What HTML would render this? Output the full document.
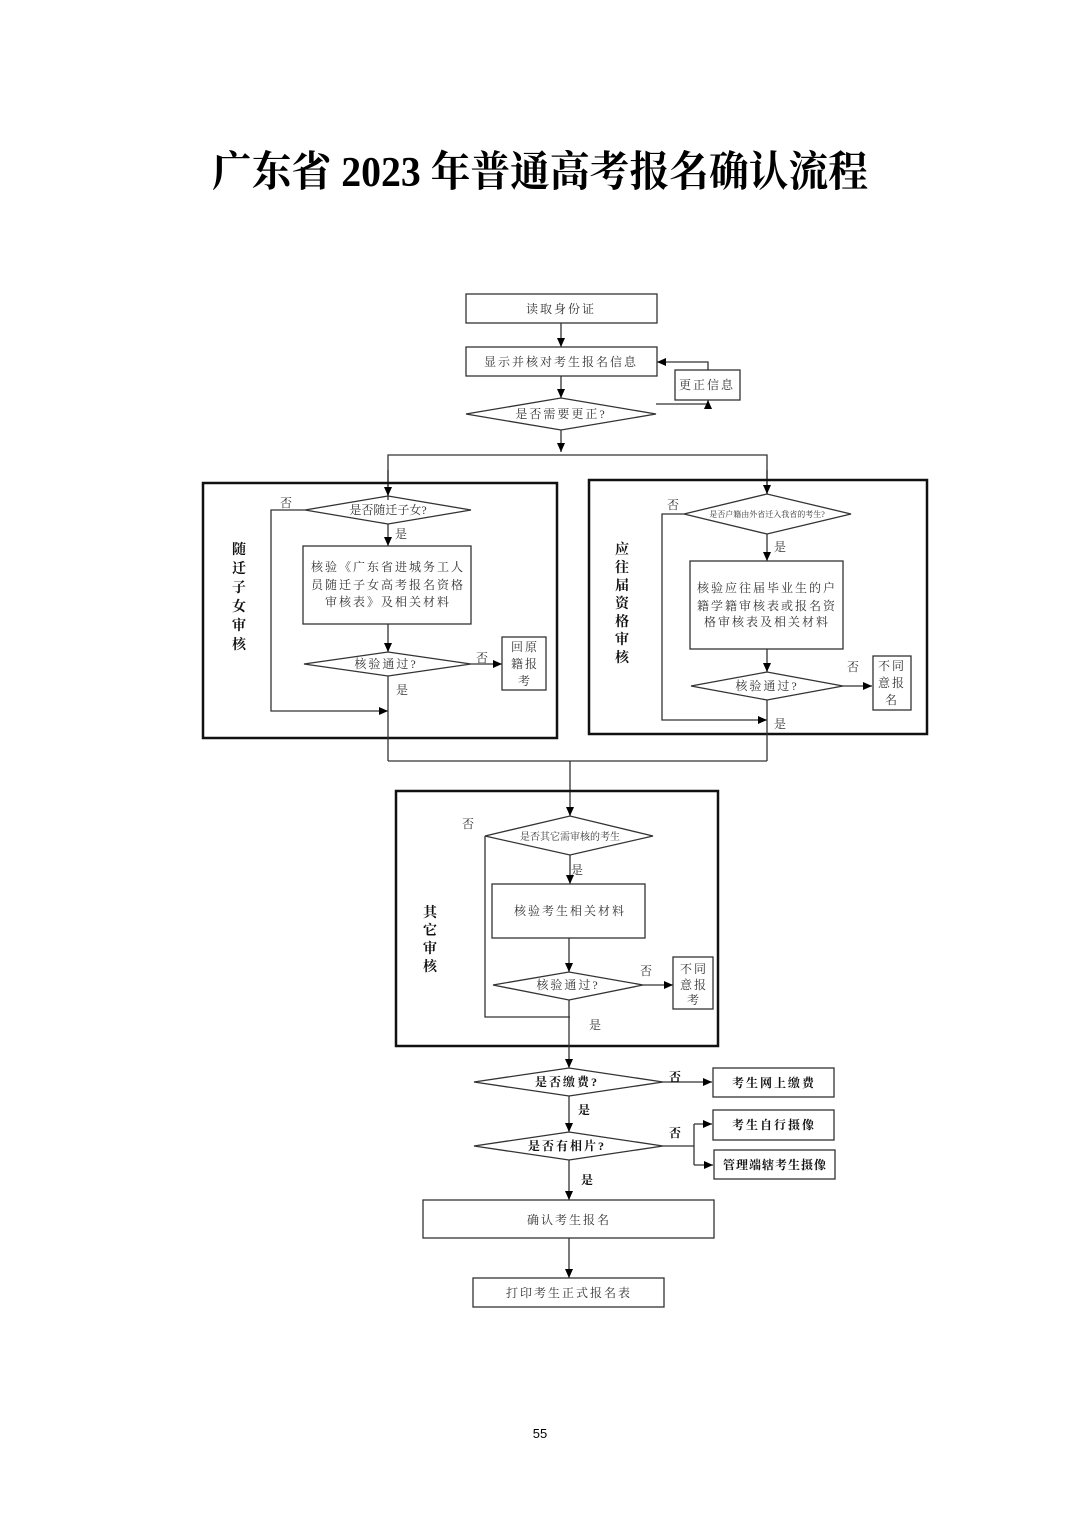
<!DOCTYPE html>
<html><head><meta charset="utf-8"><style>
html,body{margin:0;padding:0;background:#fff;}
svg{display:block;}
text{font-family:"Liberation Serif","Noto Serif CJK SC","Noto Sans CJK SC",serif;fill:#333;}
.t{font-size:12px;letter-spacing:2px;}
.s{font-size:12px;}
.b{font-weight:bold;fill:#111;font-size:12px;letter-spacing:2px;}
.v{font-weight:bold;fill:#111;font-size:14px;}
</style></head><body>
<svg width="1080" height="1528" viewBox="0 0 1080 1528" xmlns="http://www.w3.org/2000/svg">
<defs><marker id="a" markerWidth="10" markerHeight="10" refX="9" refY="5" orient="auto" markerUnits="userSpaceOnUse"><path d="M0,1 L9,5 L0,9 Z" fill="#000"/></marker></defs>
<text x="540" y="186" text-anchor="middle" font-size="42" font-weight="bold" style="fill:#000" textLength="656" lengthAdjust="spacingAndGlyphs">广东省 2023 年普通高考报名确认流程</text>
<g fill="none" stroke="#333" stroke-width="1.3">
<rect x="466" y="294" width="191" height="29"/>
<line x1="561" y1="323" x2="561" y2="347" marker-end="url(#a)"/>
<rect x="466" y="347" width="191" height="29"/>
<rect x="675" y="370" width="65" height="30"/>
<polyline points="708,370 708,362 657,362" marker-end="url(#a)"/>
<line x1="561" y1="376" x2="561" y2="398" marker-end="url(#a)"/>
<polygon points="466,414 561,398 656,414 561,430"/>
<polyline points="656,404 708,404 708,400" marker-end="url(#a)"/>
<line x1="561" y1="430" x2="561" y2="452" marker-end="url(#a)"/>
<polyline points="388,500 388,455 767,455 767,494"/>
<line x1="388" y1="470" x2="388" y2="496" marker-end="url(#a)"/>
<line x1="767" y1="470" x2="767" y2="494" marker-end="url(#a)"/>
<rect x="203" y="483" width="354" height="255" stroke="#111" stroke-width="2.5"/>
<polygon points="305,510 388,496 471,510 388,524"/>
<polyline points="305,510 271,510 271,711 388,711" marker-end="url(#a)"/>
<line x1="388" y1="524" x2="388" y2="546" marker-end="url(#a)"/>
<rect x="303" y="546" width="168" height="78"/>
<line x1="388" y1="624" x2="388" y2="652" marker-end="url(#a)"/>
<polygon points="304,664 388,652 471,664 388,676"/>
<line x1="471" y1="664" x2="502" y2="664" marker-end="url(#a)"/>
<rect x="502" y="637" width="44" height="53"/>
<line x1="388" y1="676" x2="388" y2="761"/>
<rect x="589" y="480" width="338" height="254" stroke="#111" stroke-width="2.5"/>
<polygon points="684,514 767,494 851,514 767,534"/>
<polyline points="684,514 662,514 662,720 767,720" marker-end="url(#a)"/>
<line x1="767" y1="534" x2="767" y2="561" marker-end="url(#a)"/>
<rect x="690" y="561" width="153" height="88"/>
<line x1="767" y1="649" x2="767" y2="672" marker-end="url(#a)"/>
<polygon points="691,686 767,672 843,686 767,700"/>
<line x1="843" y1="686" x2="872" y2="686" marker-end="url(#a)"/>
<rect x="873" y="656" width="38" height="54"/>
<line x1="767" y1="700" x2="767" y2="761"/>
<line x1="388" y1="761" x2="767" y2="761"/>
<line x1="570" y1="761" x2="570" y2="816" marker-end="url(#a)"/>
<rect x="396" y="791" width="322" height="255" stroke="#111" stroke-width="2.5"/>
<polygon points="485,836 570,816 653,836 570,855"/>
<polyline points="485,836 485,1017 570,1017"/>
<line x1="570" y1="855" x2="570" y2="884" marker-end="url(#a)"/>
<rect x="492" y="884" width="153" height="54"/>
<line x1="569" y1="938" x2="569" y2="972" marker-end="url(#a)"/>
<polygon points="493,985 569,972 643,985 569,1000"/>
<line x1="643" y1="985" x2="673" y2="985" marker-end="url(#a)"/>
<rect x="673" y="957" width="40" height="52"/>
<line x1="569" y1="1000" x2="569" y2="1068" marker-end="url(#a)"/>
<polygon points="474,1082 569,1068 663,1082 569,1096"/>
<line x1="663" y1="1082" x2="712" y2="1082" marker-end="url(#a)"/>
<rect x="713" y="1068" width="121" height="29"/>
<line x1="569" y1="1096" x2="569" y2="1132" marker-end="url(#a)"/>
<polygon points="474,1146 569,1132 663,1146 569,1160"/>
<polyline points="663,1146 694,1146"/>
<polyline points="694,1124 694,1165"/>
<line x1="694" y1="1124" x2="712" y2="1124" marker-end="url(#a)"/>
<line x1="694" y1="1165" x2="713" y2="1165" marker-end="url(#a)"/>
<rect x="713" y="1110" width="121" height="30"/>
<rect x="714" y="1150" width="121" height="29"/>
<line x1="569" y1="1160" x2="569" y2="1200" marker-end="url(#a)"/>
<rect x="423" y="1200" width="291" height="38"/>
<line x1="569" y1="1238" x2="569" y2="1278" marker-end="url(#a)"/>
<rect x="473" y="1278" width="191" height="29"/>
</g>
<text class="t" x="561" y="313" text-anchor="middle">读取身份证</text>
<text class="t" x="561" y="366" text-anchor="middle">显示并核对考生报名信息</text>
<text class="t" x="707" y="389" text-anchor="middle">更正信息</text>
<text class="t" x="561" y="418" text-anchor="middle">是否需要更正?</text>
<text class="s" x="280" y="507">否</text>
<text class="s" x="388" y="514" text-anchor="middle" font-size="10">是否随迁子女?</text>
<text class="s" x="395" y="538">是</text>
<text class="t" x="388" y="571" text-anchor="middle">核验《广东省进城务工人</text>
<text class="t" x="388" y="589" text-anchor="middle">员随迁子女高考报名资格</text>
<text class="t" x="388" y="606" text-anchor="middle">审核表》及相关材料</text>
<text class="t" x="386" y="668" text-anchor="middle">核验通过?</text>
<text class="s" x="476" y="662">否</text>
<text class="t" x="525" y="651" text-anchor="middle">回原</text>
<text class="t" x="525" y="668" text-anchor="middle">籍报</text>
<text class="t" x="525" y="685" text-anchor="middle">考</text>
<text class="s" x="396" y="694">是</text>
<text class="v" x="239" y="554" text-anchor="middle">随</text>
<text class="v" x="239" y="573" text-anchor="middle">迁</text>
<text class="v" x="239" y="592" text-anchor="middle">子</text>
<text class="v" x="239" y="611" text-anchor="middle">女</text>
<text class="v" x="239" y="630" text-anchor="middle">审</text>
<text class="v" x="239" y="649" text-anchor="middle">核</text>
<text class="s" x="667" y="509">否</text>
<text x="767" y="517" text-anchor="middle" font-size="8">是否户籍由外省迁入我省的考生?</text>
<text class="s" x="774" y="551">是</text>
<text class="t" x="767" y="592" text-anchor="middle">核验应往届毕业生的户</text>
<text class="t" x="767" y="610" text-anchor="middle">籍学籍审核表或报名资</text>
<text class="t" x="767" y="626" text-anchor="middle">格审核表及相关材料</text>
<text class="t" x="767" y="690" text-anchor="middle">核验通过?</text>
<text class="s" x="847" y="671">否</text>
<text class="t" x="892" y="670" text-anchor="middle">不同</text>
<text class="t" x="892" y="687" text-anchor="middle">意报</text>
<text class="t" x="892" y="704" text-anchor="middle">名</text>
<text class="s" x="774" y="728">是</text>
<text class="v" x="622" y="554" text-anchor="middle">应</text>
<text class="v" x="622" y="572" text-anchor="middle">往</text>
<text class="v" x="622" y="590" text-anchor="middle">届</text>
<text class="v" x="622" y="608" text-anchor="middle">资</text>
<text class="v" x="622" y="626" text-anchor="middle">格</text>
<text class="v" x="622" y="644" text-anchor="middle">审</text>
<text class="v" x="622" y="662" text-anchor="middle">核</text>
<text class="s" x="462" y="828">否</text>
<text x="570" y="840" text-anchor="middle" font-size="10">是否其它需审核的考生</text>
<text class="s" x="571" y="874">是</text>
<text class="t" x="570" y="915" text-anchor="middle">核验考生相关材料</text>
<text class="t" x="568" y="989" text-anchor="middle">核验通过?</text>
<text class="s" x="640" y="975">否</text>
<text class="t" x="694" y="973" text-anchor="middle">不同</text>
<text class="t" x="694" y="989" text-anchor="middle">意报</text>
<text class="t" x="694" y="1004" text-anchor="middle">考</text>
<text class="s" x="589" y="1029">是</text>
<text class="v" x="430" y="917" text-anchor="middle">其</text>
<text class="v" x="430" y="935" text-anchor="middle">它</text>
<text class="v" x="430" y="953" text-anchor="middle">审</text>
<text class="v" x="430" y="971" text-anchor="middle">核</text>
<text class="b" x="567" y="1086" text-anchor="middle">是否缴费?</text>
<text class="b" x="669" y="1081">否</text>
<text class="b" x="774" y="1087" text-anchor="middle">考生网上缴费</text>
<text class="b" x="578" y="1114">是</text>
<text class="b" x="567" y="1150" text-anchor="middle">是否有相片?</text>
<text class="b" x="669" y="1137">否</text>
<text class="b" x="774" y="1129" text-anchor="middle">考生自行摄像</text>
<text class="b" x="775" y="1169" text-anchor="middle" style="letter-spacing:1px">管理端辖考生摄像</text>
<text class="b" x="581" y="1184">是</text>
<text class="t" x="569" y="1224" text-anchor="middle">确认考生报名</text>
<text class="t" x="569" y="1297" text-anchor="middle">打印考生正式报名表</text>
<text x="540" y="1438" text-anchor="middle" font-size="13" style="fill:#000;font-family:'Liberation Sans',sans-serif">55</text>
</svg>
</body></html>
